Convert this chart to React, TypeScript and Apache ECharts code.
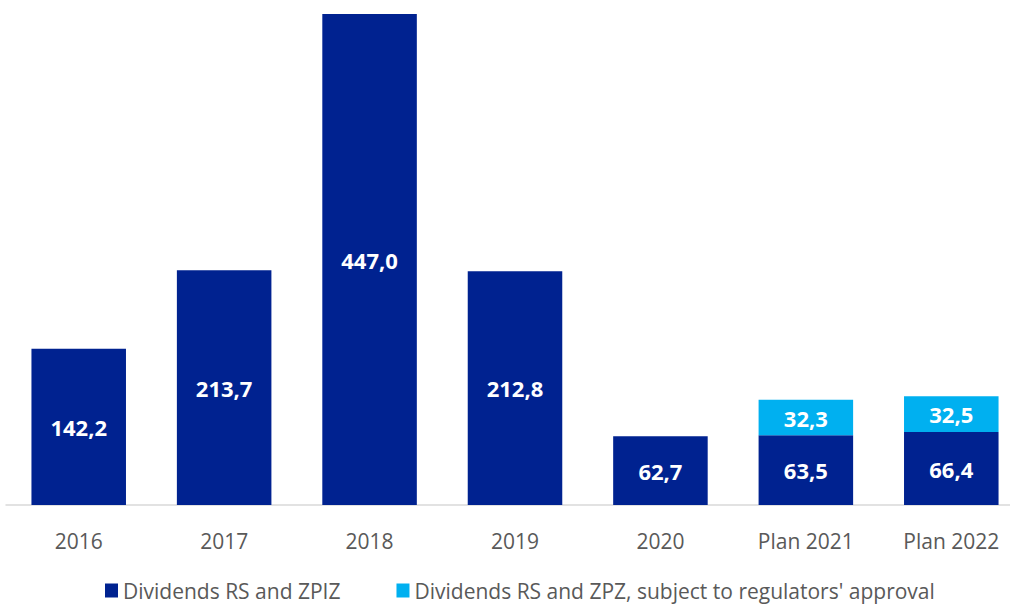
import React, { useEffect, useRef } from "react";
import * as echarts from "echarts";

const categories = ["2016", "2017", "2018", "2019", "2020", "Plan 2021", "Plan 2022"];
const dividendsBase = [142.2, 213.7, 447.0, 212.8, 62.7, 63.5, 66.4];
const dividendsApproval = [null, null, null, null, null, 32.3, 32.5];
const seriesNames = ["Dividends RS and ZPIZ", "Dividends RS and ZPZ, subject to regulators' approval"];

const fmt = (p: any) => (p.value == null ? "" : Number(p.value).toFixed(1).replace(".", ","));

export default function App() {
  const ref = useRef<HTMLDivElement>(null);
  useEffect(() => {
    const chart = echarts.init(ref.current!, null, { renderer: "svg" });
    const font = "'Open Sans', sans-serif";
    const label = { show: true, position: "inside", color: "#fff", fontWeight: "bold", fontSize: 22, fontFamily: font, formatter: fmt };
    chart.setOption({
      animation: false,
      grid: { left: 6, top: 14, right: -14, bottom: 101, containLabel: false, outerBoundsMode: "none" },
      legend: {
        top: 580,
        left: 105,
        padding: 0,
        icon: "rect",
        itemWidth: 13,
        itemHeight: 14,
        itemGap: 56,
        textStyle: { color: "#595959", fontSize: 21, fontFamily: font, lineHeight: 20 },
        data: seriesNames,
      },
      xAxis: {
        type: "category",
        data: categories,
        axisLine: { lineStyle: { color: "#D9D9D9", width: 1.5 } },
        axisTick: { show: false },
        axisLabel: { color: "#595959", fontSize: 21, fontFamily: font, margin: 25 },
      },
      yAxis: { type: "value", min: 0, max: 447, show: false, splitLine: { show: false } },
      series: [
        { name: seriesNames[0], type: "bar", stack: "a", data: dividendsBase, barWidth: "65%", itemStyle: { color: "#002290" }, label },
        { name: seriesNames[1], type: "bar", stack: "a", data: dividendsApproval, barWidth: "65%", itemStyle: { color: "#00B0F0" }, label },
      ],
    });
    return () => chart.dispose();
  }, []);
  return <div ref={ref} style={{ width: 1010, height: 606, position: "absolute", left: 0, top: 0 }} />;
}
